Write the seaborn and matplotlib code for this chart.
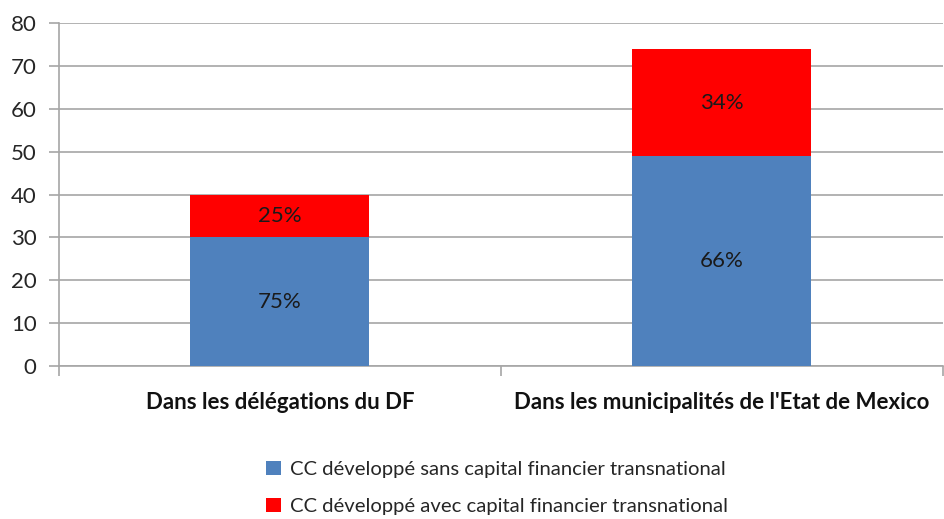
import matplotlib
matplotlib.use("Agg")
import matplotlib.pyplot as plt
import seaborn as sns
import numpy as np
from matplotlib.patches import Patch
from matplotlib.ticker import FixedLocator

sns.set_theme(style="white")
plt.rcParams["font.family"] = ["Lato", "DejaVu Sans"]

categories = ["Dans les délégations du DF", "Dans les municipalités de l'Etat de Mexico"]
sans_capital = [30, 49]
avec_capital = [10, 25]
series_names = ["CC développé sans capital financier transnational",
                "CC développé avec capital financier transnational"]
y_ticks = [0, 10, 20, 30, 40, 50, 60, 70, 80]

blue = "#4F81BD"
red = "#FF0000"
grid_col = "#A6A6A6"

fig = plt.figure(figsize=(9.45, 5.19), dpi=100)
ax = fig.add_axes([0.0624, 0.295, 0.935, 0.66])

sns.barplot(x=categories, y=sans_capital, color=blue, width=0.405,
            saturation=1, ax=ax, zorder=3, linewidth=0)
sns.barplot(x=categories, y=avec_capital, bottom=sans_capital, color=red,
            width=0.405, saturation=1, ax=ax, zorder=3, linewidth=0)

# percentage labels centred in each segment
for i in range(len(categories)):
    total = sans_capital[i] + avec_capital[i]
    ax.text(i, sans_capital[i] / 2, f"{round(100 * sans_capital[i] / total)}%",
            ha="center", va="center", fontsize=16, color="#1a1a1a", zorder=4)
    ax.text(i, sans_capital[i] + avec_capital[i] / 2,
            f"{round(100 * avec_capital[i] / total)}%",
            ha="center", va="center", fontsize=16, color="#1a1a1a", zorder=4)

ax.set_ylim(0, 80)
ax.set_xlim(-0.5, 1.5)
ax.set_yticks(y_ticks)
ax.yaxis.grid(True, color=grid_col, linewidth=1.2, zorder=0)
ax.set_axisbelow(True)

for s in ["top", "right"]:
    ax.spines[s].set_visible(False)
for s in ["left", "bottom"]:
    ax.spines[s].set_color(grid_col)
    ax.spines[s].set_linewidth(1.2)

ax.tick_params(axis="y", which="major", left=True, length=7, width=1.2,
               color=grid_col, labelsize=16, labelcolor="#262626", pad=9)
ax.tick_params(axis="x", which="major", bottom=False, labelsize=16,
               labelcolor="#111111", pad=13)
for lab in ax.get_xticklabels():
    lab.set_fontweight("bold")
ax.xaxis.set_minor_locator(FixedLocator([-0.5, 0.5, 1.5]))
ax.tick_params(axis="x", which="minor", bottom=True, length=7, width=1.2,
               color=grid_col)
ax.set_xlabel("")
ax.set_ylabel("")

handles = [Patch(facecolor=blue, edgecolor="none"),
           Patch(facecolor=red, edgecolor="none")]
fig.legend(handles, series_names, loc="center", bbox_to_anchor=(0.526, 0.06),
           ncol=1, frameon=False, fontsize=14.6, handlelength=0.7,
           handleheight=0.7, handletextpad=0.45, labelspacing=1.0,
           labelcolor="#262626")

fig.savefig("out.png", dpi=100)
